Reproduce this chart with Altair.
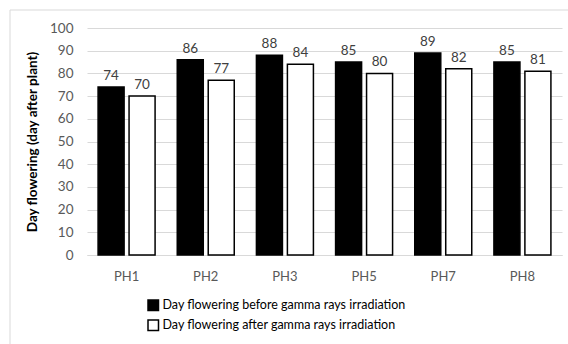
import altair as alt
import pandas as pd

categories = ["PH1", "PH2", "PH3", "PH5", "PH7", "PH8"]
before = [74, 86, 88, 85, 89, 85]
after = [70, 77, 84, 80, 82, 81]
series = ["Day flowering before gamma rays irradiation",
          "Day flowering after gamma rays irradiation"]
y_ticks = list(range(0, 101, 10))

rows = []
for c, b, a in zip(categories, before, after):
    rows.append({"cat": c, "series": series[0], "value": b})
    rows.append({"cat": c, "series": series[1], "value": a})
df = pd.DataFrame(rows)

FONT = "Lato"

x_enc = alt.X("cat:N", sort=categories, title=None,
              scale=alt.Scale(paddingInner=0.28, paddingOuter=0.14),
              axis=alt.Axis(labelAngle=0, ticks=False, labelPadding=15,
                            labelFontSize=13, grid=False))
xo_enc = alt.XOffset("series:N", sort=series,
                     scale=alt.Scale(paddingInner=0.16, paddingOuter=0))
y_enc = alt.Y("value:Q", scale=alt.Scale(domain=[0, 100]),
              title="Day flowering (day after plant)",
              axis=alt.Axis(values=y_ticks, labelOverlap=False, ticks=False, domain=False,
                            labelPadding=14, labelFontSize=13.5, labelFont=FONT))

bars = alt.Chart(df).mark_bar(stroke="black", strokeWidth=1.5).encode(
    x=x_enc,
    xOffset=xo_enc,
    y=y_enc,
    color=alt.Color("series:N", sort=series,
                    scale=alt.Scale(domain=series, range=["#000000", "#ffffff"]),
                    legend=alt.Legend(title=None, orient="none", legendX=60, legendY=271,
                                      direction="vertical", symbolType="square",
                                      symbolSize=110, symbolStrokeColor="black",
                                      symbolStrokeWidth=1.5, labelFont=FONT,
                                      labelFontSize=12.5, labelColor="#000000",
                                      labelLimit=0, rowPadding=3, labelOffset=3)),
)

labels = alt.Chart(df).mark_text(dy=-11, fontSize=13.5, font=FONT, color="#404040").encode(
    x=x_enc,
    xOffset=xo_enc,
    y=y_enc,
    text="value:Q",
)

frame = alt.Chart(pd.DataFrame({"k": [0]})).mark_rect(
    fill=None, stroke="#d9d9d9", strokeWidth=1
).encode(x=alt.value(-77), x2=alt.value(520), y=alt.value(-18), y2=alt.value(340))

chart = alt.layer(frame, bars, labels).properties(
    width=475, height=227,
    padding={"left": 87, "top": 28, "right": 6, "bottom": 89},
    autosize=alt.AutoSizeParams(type="none"),
    background="white",
).configure_view(stroke=None).configure_axis(
    gridColor="#d9d9d9", labelColor="#595959", labelFont=FONT, domainColor="#d9d9d9"
).configure_axisY(
    titleFont=FONT, titleFontSize=13.5, titleFontWeight="bold",
    titleColor="#000000", titlePadding=10
)

chart.save("out.html", embed_options={"renderer": "svg", "actions": False})
